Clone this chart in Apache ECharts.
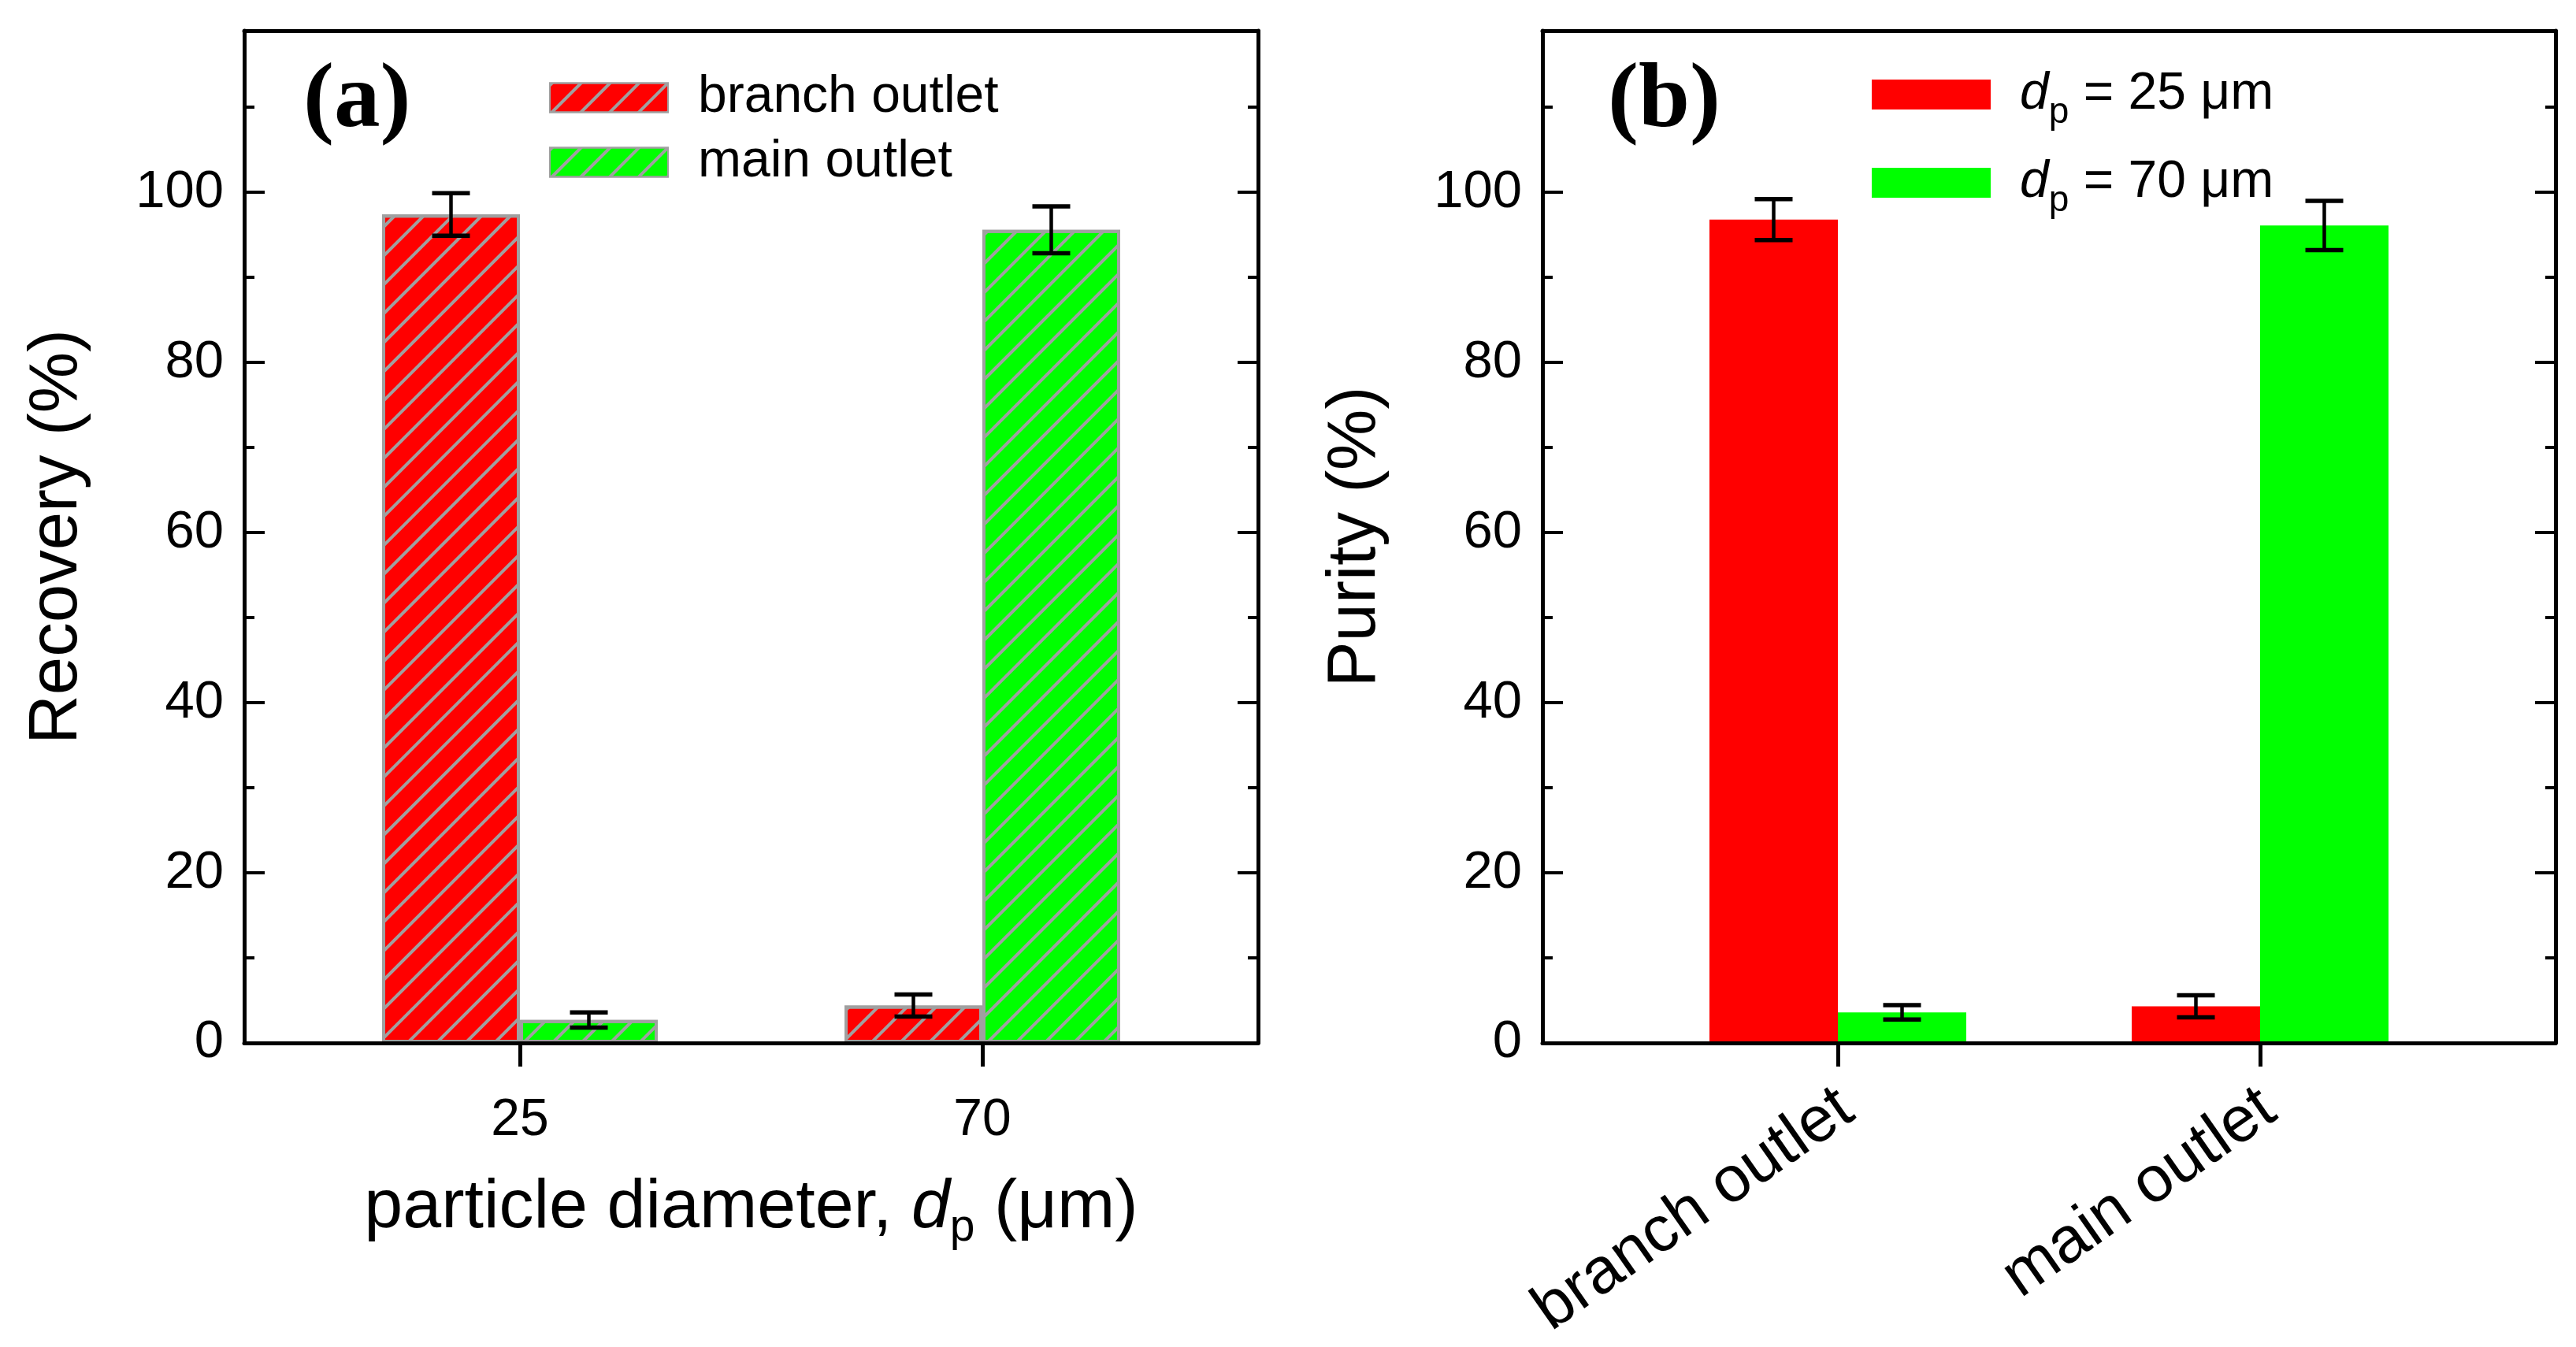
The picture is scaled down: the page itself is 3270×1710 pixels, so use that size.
<!DOCTYPE html>
<html>
<head>
<meta charset="utf-8">
<script src="https://cdn.jsdelivr.net/npm/echarts@6/dist/echarts.min.js"></script>
<style>html,body{margin:0;padding:0;background:#fff;}#c{width:3270px;height:1710px;}</style>
</head>
<body>
<div id="c"></div>
<script>
// ---- data ----
const diameterCats = ['25', '70'];
const recoveryBranch = [97.4, 4.4];
const recoveryBranchErr = [2.5, 1.3];
const recoveryMain = [2.7, 95.6];
const recoveryMainErr = [0.9, 2.75];

const outletCats = ['branch outlet', 'main outlet'];
const purity25 = [96.8, 4.3];
const purity25Err = [2.4, 1.3];
const purity70 = [3.6, 96.1];
const purity70Err = [0.85, 2.9];

const yTickValues = [0, 20, 40, 60, 80, 100];
const sizeLabels = ['25', '70'];

// ---- styles / layout ----
const FONT = 'Liberation Sans';
const RED = '#ff0000', GREEN = '#00ff00', GREY = '#a0a0a0';
const Y_MAX = 119;
const TOP = 39, H = 1285;
const A_FRAME = {left: 310, width: 1287};
const A_DATA = {left: 366.5, width: 1174};
const B_FRAME = {left: 1958, width: 1286};
const B_DATA = {left: 2065, width: 1072};
const BW_A = 175, BW_B = 163;

const hatch = {symbol: 'rect', symbolSize: 1, dashArrayX: [1, 0], dashArrayY: [4, 22], rotation: -Math.PI / 4, color: GREY};

function yLabel(v) { return yTickValues.indexOf(v) >= 0 ? String(v) : ''; }

function frameAxes(gridIndex, withLabels, name, nameGap, xName, xNameGap) {
  const xs = [
    {type: 'value', gridIndex, min: 0, max: 1, position: 'bottom', z: 10,
     axisLine: {show: true, onZero: false, lineStyle: {color: '#000', width: 5}}, axisTick: {show: false},
     axisLabel: {show: false}, splitLine: {show: false},
     name: xName || '', nameLocation: 'middle', nameGap: xNameGap || 0,
     nameTextStyle: {fontFamily: FONT, fontSize: 88, color: '#000', lineHeight: 100,
       rich: {
         t: {fontFamily: FONT, fontSize: 88, color: '#000', lineHeight: 100},
         i: {fontFamily: FONT, fontSize: 88, fontStyle: 'italic', color: '#000', lineHeight: 100},
         s: {fontFamily: FONT, fontSize: 57, color: '#000', lineHeight: 57, padding: [50, 0, 0, 0]}
       }}},
    {type: 'value', gridIndex, min: 0, max: 1, position: 'top', z: 10,
     axisLine: {show: true, onZero: false, lineStyle: {color: '#000', width: 5}}, axisTick: {show: false},
     axisLabel: {show: false}, splitLine: {show: false}}
  ];
  const yCommon = {type: 'value', gridIndex, min: 0, max: Y_MAX, interval: 20, z: 10,
    axisLine: {show: true, onZero: false, lineStyle: {color: '#000', width: 5}},
    axisTick: {show: true, inside: true, length: 26, lineStyle: {color: '#000', width: 4}},
    minorTick: {show: true, splitNumber: 2, length: 13, lineStyle: {color: '#000', width: 4}},
    splitLine: {show: false}, minorSplitLine: {show: false}};
  const ys = [
    Object.assign({}, yCommon, {position: 'left',
      axisLabel: {show: withLabels, formatter: yLabel, fontFamily: FONT, fontSize: 67, color: '#000', margin: 26},
      name: name, nameLocation: 'middle', nameGap: nameGap,
      nameTextStyle: {fontFamily: FONT, fontSize: 87, color: '#000'}}),
    Object.assign({}, yCommon, {position: 'right', axisLabel: {show: false}})
  ];
  return {xs, ys};
}

const fa = frameAxes(0, true, 'Recovery (%)', 193, 'particle diameter, {i|d}{s|p}{t| (μm)}', 160);
const fb = frameAxes(2, true, 'Purity (%)', 193, '', 0);

const xAxes = [
  fa.xs[0], fa.xs[1],
  {type: 'category', gridIndex: 1, data: diameterCats, boundaryGap: true,
   axisLine: {show: false, onZero: false}, axisTick: {show: true, alignWithLabel: true, length: 30, lineStyle: {color: '#000', width: 5}},
   axisLabel: {fontFamily: FONT, fontSize: 66, color: '#000', margin: 66}, splitLine: {show: false}},
  fb.xs[0], fb.xs[1],
  {type: 'category', gridIndex: 3, data: outletCats, boundaryGap: true,
   axisLine: {show: false, onZero: false}, axisTick: {show: true, alignWithLabel: true, length: 30, lineStyle: {color: '#000', width: 5}},
   axisLabel: {fontFamily: FONT, fontSize: 82, color: '#000', margin: 84, rotate: 35, interval: 0, padding: [0, -14, 0, 0]}, splitLine: {show: false}}
];
const yAxes = [
  fa.ys[0], fa.ys[1],
  {type: 'value', gridIndex: 1, min: 0, max: Y_MAX, show: false, splitLine: {show: false}},
  fb.ys[0], fb.ys[1],
  {type: 'value', gridIndex: 3, min: 0, max: Y_MAX, show: false, splitLine: {show: false}}
];

function errSeries(xi, yi, vals, errs, sign, bw) {
  return {
    type: 'custom', xAxisIndex: xi, yAxisIndex: yi, z: 5, silent: true,
    data: vals.map((v, i) => [i, v, errs[i]]),
    renderItem: function (params, api) {
      const c = api.value(0), v = api.value(1), e = api.value(2);
      const p1 = api.coord([c, v + e]);
      const p2 = api.coord([c, v - e]);
      const x = p1[0] + sign * bw / 2;
      const cap = 24;
      const st = {stroke: '#000', lineWidth: 4.5};
      const cs = {stroke: '#000', lineWidth: 5.5};
      return {type: 'group', children: [
        {type: 'line', shape: {x1: x, y1: p1[1], x2: x, y2: p2[1]}, style: st},
        {type: 'line', shape: {x1: x - cap, y1: p1[1], x2: x + cap, y2: p1[1]}, style: cs},
        {type: 'line', shape: {x1: x - cap, y1: p2[1], x2: x + cap, y2: p2[1]}, style: cs}
      ]};
    }
  };
}

const nameB25 = 'dp = ' + sizeLabels[0] + ' μm';
const nameB70 = 'dp = ' + sizeLabels[1] + ' μm';
const richLegendB = {};
richLegendB[nameB25] = '{i|d}{s|p}{n| = ' + sizeLabels[0] + ' μm}';
richLegendB[nameB70] = '{i|d}{s|p}{n| = ' + sizeLabels[1] + ' μm}';

const series = [
  {type: 'bar', name: 'branch outlet', xAxisIndex: 2, yAxisIndex: 2, data: recoveryBranch, barWidth: BW_A, barGap: '0%', z: 2,
   itemStyle: {color: RED, borderColor: GREY, borderWidth: 4, decal: hatch}},
  {type: 'bar', name: 'main outlet', xAxisIndex: 2, yAxisIndex: 2, data: recoveryMain, barWidth: BW_A, barGap: '0%', z: 2,
   itemStyle: {color: GREEN, borderColor: GREY, borderWidth: 4, decal: hatch}},
  errSeries(2, 2, recoveryBranch, recoveryBranchErr, -1, BW_A),
  errSeries(2, 2, recoveryMain, recoveryMainErr, 1, BW_A),
  {type: 'bar', name: nameB25, xAxisIndex: 5, yAxisIndex: 5, data: purity25, barWidth: BW_B, barGap: '0%', z: 2,
   itemStyle: {color: RED}},
  {type: 'bar', name: nameB70, xAxisIndex: 5, yAxisIndex: 5, data: purity70, barWidth: BW_B, barGap: '0%', z: 2,
   itemStyle: {color: GREEN}},
  errSeries(5, 5, purity25, purity25Err, -1, BW_B),
  errSeries(5, 5, purity70, purity70Err, 1, BW_B)
];

const option = {
  backgroundColor: '#ffffff',
  animation: false,
  title: [
    {text: '(a)', left: 385, top: 71, padding: 0, textStyle: {fontFamily: 'Liberation Serif', fontWeight: 'bold', fontSize: 117, color: '#000'}},
    {text: '(b)', left: 2041, top: 71, padding: 0, textStyle: {fontFamily: 'Liberation Serif', fontWeight: 'bold', fontSize: 117, color: '#000'}}
  ],
  legend: [
    {data: ['branch outlet', 'main outlet'], orient: 'vertical', left: 697, top: 91, padding: 0,
     itemWidth: 150, itemHeight: 37, itemGap: 16, icon: 'rect', selectedMode: false,
     textStyle: {fontFamily: FONT, fontSize: 66, color: '#000', padding: [0, 0, 0, 33]}},
    {data: [nameB25, nameB70], orient: 'vertical', left: 2376, top: 74, padding: 0,
     itemWidth: 151, itemHeight: 38, itemGap: 20, icon: 'rect', selectedMode: false,
     formatter: function (n) { return richLegendB[n]; },
     textStyle: {fontFamily: FONT, fontSize: 66, color: '#000', padding: [0, 0, 0, 32],
       rich: {
         i: {fontFamily: FONT, fontSize: 66, fontStyle: 'italic', color: '#000', lineHeight: 70},
         s: {fontFamily: FONT, fontSize: 46, color: '#000', lineHeight: 46, padding: [46, 0, 0, 0]},
         n: {fontFamily: FONT, fontSize: 66, color: '#000', lineHeight: 70}
       }}}
  ],
  grid: [
    {left: A_FRAME.left, top: TOP, width: A_FRAME.width, height: H, containLabel: false},
    {left: A_DATA.left, top: TOP, width: A_DATA.width, height: H, containLabel: false},
    {left: B_FRAME.left, top: TOP, width: B_FRAME.width, height: H, containLabel: false},
    {left: B_DATA.left, top: TOP, width: B_DATA.width, height: H, containLabel: false}
  ],
  xAxis: xAxes,
  yAxis: yAxes,
  series: series
};

const chart = echarts.init(document.getElementById('c'), null, {renderer: 'canvas', width: 3270, height: 1710});
chart.setOption(option);
</script>
</body>
</html>
